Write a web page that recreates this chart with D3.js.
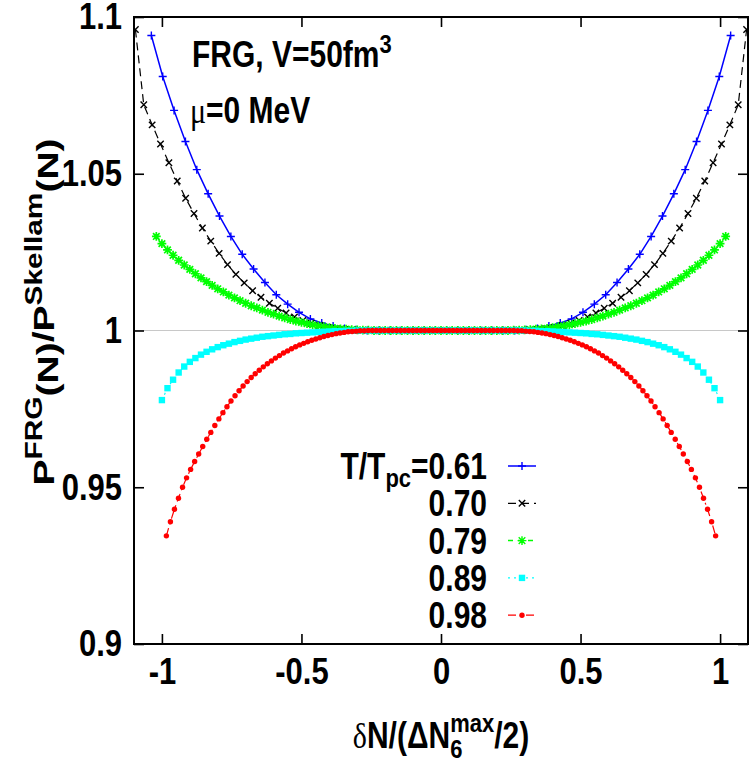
<!DOCTYPE html>
<html>
<head>
<meta charset="utf-8">
<script src="https://cdn.jsdelivr.net/npm/d3@7"></script>
<style>
  body { margin: 0; background: #fff; }
  svg { font-family: "Liberation Sans", Arial, sans-serif; font-weight: bold; }
</style>
</head>
<body>
<svg id="chart" width="750" height="761"></svg>
<script>
// T/Tpc of each curve
var temps = ["0.61", "0.70", "0.79", "0.89", "0.98"];
// each curve is sampled on an even grid over [-end, end] (in dN/(dNmax/2))
var gridEnd = [1.0378, 1.095, 1.02, 1.0, 0.984];

// P_FRG / P_Skellam, left to right
var ratio061 = [1.0941,1.0810,1.0702,1.0603,1.0513,1.0436,1.0365,1.0300,1.0243,1.0196,
  1.0153,1.0114,1.0084,1.0058,1.0037,1.0024,1.0014,1.0006,1.0002,1,1,1,1,1,1,1,
  1,1,1,1,1,1,1,1.0002,1.0006,1.0014,1.0024,1.0037,1.0058,1.0084,1.0114,1.0153,
  1.0196,1.0243,1.0300,1.0365,1.0436,1.0513,1.0603,1.0702,1.0810,1.0941];

var ratio070 = [1.0960,1.0720,1.0656,1.0595,1.0535,1.0477,1.0422,1.0373,1.0327,1.0285,
  1.0246,1.0210,1.0179,1.0152,1.0127,1.0106,1.0087,1.0071,1.0056,1.0043,1.0032,1.0023,
  1.0016,1.0010,1.0006,1.0003,1.0001,1,1,1,1,1,1,1,1,1,1,
  1,1,1,1,1,1,1,1,1,1,1.0001,1.0003,1.0006,1.0010,1.0016,1.0023,1.0032,1.0043,1.0056,
  1.0071,1.0087,1.0106,1.0127,1.0152,1.0179,1.0210,1.0246,1.0285,1.0327,1.0373,1.0422,
  1.0477,1.0535,1.0595,1.0656,1.0720,1.0960];

var ratio079 = [1.0300,1.0277,1.0257,1.0240,1.0224,1.0209,1.0195,1.0181,1.0168,1.0156,
  1.0144,1.0133,1.0123,1.0113,1.0104,1.0095,1.0087,1.0079,1.0072,1.0065,1.0058,1.0052,
  1.0046,1.0040,1.0035,1.0030,1.0026,1.0022,1.0018,1.0015,1.0012,1.0009,1.0007,1.0005,
  1.0004,1.0003,1.0002,1.0001,1.0001,
  1,1,1,1,1,1,1,1,1,1,1,1,1,1,1,1,1,1,1,1,1,1,1,1,1,
  1.0001,1.0001,1.0002,1.0003,1.0004,1.0005,1.0007,1.0009,1.0012,1.0015,1.0018,1.0022,
  1.0026,1.0030,1.0035,1.0040,1.0046,1.0052,1.0058,1.0065,1.0072,1.0079,1.0087,1.0095,
  1.0104,1.0113,1.0123,1.0133,1.0144,1.0156,1.0168,1.0181,1.0195,1.0209,1.0224,1.0240,
  1.0257,1.0277,1.0300];

var ratio089 = [0.9778,0.9816,0.9843,0.9866,0.9885,0.9900,0.9912,0.9923,0.9932,0.9940,
  0.9947,0.9953,0.9958,0.9963,0.9967,0.9971,0.9974,0.9977,0.9980,0.9982,0.9984,0.9986,
  0.9988,0.9989,0.9991,0.9992,0.9993,0.9994,0.9995,0.9996,0.9997,0.9998,0.9998,0.9999,0.9999,
  1,1,1,1,1,1,1,1,1,1,1,1,1,1,1,1,1,1,1,1,1,1,1,1,1,1,1,1,1,1,1,
  0.9999,0.9999,0.9998,0.9998,0.9997,0.9996,0.9995,0.9994,0.9993,0.9992,0.9991,0.9989,
  0.9988,0.9986,0.9984,0.9982,0.9980,0.9977,0.9974,0.9971,0.9967,0.9963,0.9958,0.9953,
  0.9947,0.9940,0.9932,0.9923,0.9912,0.9900,0.9885,0.9866,0.9843,0.9816,0.9778];

var ratio098 = [0.9345,0.9390,0.9430,0.9465,0.9500,0.9530,0.9557,0.9582,0.9606,0.9630,
  0.9653,0.9675,0.9697,0.9718,0.9738,0.9757,0.9775,0.9792,0.9808,0.9823,
  0.9837,0.9850,0.9862,0.9873,0.9884,0.9894,0.9903,0.9912,0.9920,0.9928,
  0.9935,0.9942,0.9948,0.9954,0.9959,0.9964,0.9969,0.9973,0.9977,0.9981,
  0.9984,0.9987,0.9990,0.9992,0.9994,0.9996,0.9997,0.9998,0.9999,0.9999,
  1,1,1,1,1,1,1,1,1,1,1,1,1,1,1,1,1,1,1,1,1,1,1,1,1,1,1,1,1,1,1,1,1,1,1,1,1,
  0.9999,0.9999,0.9998,0.9997,0.9996,0.9994,0.9992,0.9990,0.9987,0.9984,
  0.9981,0.9977,0.9973,0.9969,0.9964,0.9959,0.9954,0.9948,0.9942,0.9935,
  0.9928,0.9920,0.9912,0.9903,0.9894,0.9884,0.9873,0.9862,0.9850,0.9837,
  0.9823,0.9808,0.9792,0.9775,0.9757,0.9738,0.9718,0.9697,0.9675,0.9653,
  0.9630,0.9606,0.9582,0.9557,0.9530,0.9500,0.9465,0.9430,0.9390,0.9345];

var xTicks = [-1, -0.5, 0, 0.5, 1];
var yTicks = [0.9, 0.95, 1, 1.05, 1.1];

var allSeries = [ratio061, ratio070, ratio079, ratio089, ratio098];

var styles = [
  {color: "#0000ff", dash: null,      mark: "plus",   size: 4,   fill: false, lw: 1.5},
  {color: "#000000", dash: "8,5",     mark: "times",  size: 3.2, fill: false, lw: 1.2},
  {color: "#00ff00", dash: "5,5",     mark: "star",   size: 4.4, fill: false, lw: 1.5},
  {color: "#00ffff", dash: "2,4",     mark: "square", size: 3.2, fill: true,  lw: 1.2},
  {color: "#ff0000", dash: "8,4,2,4", mark: "circle", size: 2.7, fill: true,  lw: 1.2}
];

var m = {left: 134, right: 748, top: 17, bottom: 644};
var SY = 1.2; // the original figure is stretched vertically, so is its text

var x = d3.scaleLinear().domain([-1.1, 1.1]).range([m.left, m.right]);
var y = d3.scaleLinear().domain([0.9, 1.1]).range([m.bottom, m.top]);

var svg = d3.select("#chart");

svg.append("defs").append("clipPath").attr("id", "clip")
  .append("rect")
  .attr("x", m.left).attr("y", m.top)
  .attr("width", m.right - m.left).attr("height", m.bottom - m.top);

// thin grey line at ratio 1
svg.append("line")
  .attr("x1", m.left).attr("x2", m.right)
  .attr("y1", y(1)).attr("y2", y(1))
  .attr("stroke", "#c8c8c8").attr("stroke-width", 1);

function markerPath(type, s) {
  if (type == "plus") return "M" + (-s) + ",0H" + s + "M0," + (-s) + "V" + s;
  if (type == "times") return "M" + (-s) + "," + (-s) + "L" + s + "," + s + "M" + (-s) + "," + s + "L" + s + "," + (-s);
  if (type == "star") return markerPath("plus", s) + markerPath("times", s * 0.75);
  if (type == "square") return "M" + (-s) + "," + (-s) + "h" + (2 * s) + "v" + (2 * s) + "h" + (-2 * s) + "Z";
  return d3.symbol(d3.symbolCircle, Math.PI * s * s)();
}

function drawMarks(g, pts, st) {
  g.selectAll("path.mk").data(pts).enter().append("path")
    .attr("class", "mk")
    .attr("transform", function(d) { return "translate(" + x(d[0]) + "," + y(d[1]) + ")"; })
    .attr("d", markerPath(st.mark, st.size))
    .attr("fill", st.fill ? st.color : "none")
    .attr("stroke", st.fill ? "none" : st.color)
    .attr("stroke-width", st.fill ? 0 : (st.mark == "star" ? 1.7 : 1.4));
}

var plot = svg.append("g").attr("clip-path", "url(#clip)");
var line = d3.line().x(function(d) { return x(d[0]); }).y(function(d) { return y(d[1]); });

allSeries.forEach(function(vals, i) {
  var st = styles[i];
  var n = vals.length, e = gridEnd[i];
  var pts = vals.map(function(v, k) { return [-e + 2 * e * k / (n - 1), v]; });
  var g = plot.append("g");
  g.append("path").datum(pts)
    .attr("d", line)
    .attr("fill", "none")
    .attr("stroke", st.color)
    .attr("stroke-width", st.lw)
    .attr("stroke-dasharray", st.dash);
  drawMarks(g, pts, st);
});

// axes, ticks pointing inwards on all four sides
function styleAxis(g) {
  g.select(".domain").remove();
  g.attr("font-family", null).attr("font-size", 31);
  g.selectAll(".tick line").attr("stroke", "#000").attr("stroke-width", 1.6);
  g.selectAll(".tick text").attr("fill", "#000").attr("transform", "scale(1," + SY + ")");
}
var fmt = function(d) { return String(d); };

svg.append("g").attr("transform", "translate(0," + m.bottom + ")")
  .call(d3.axisBottom(x).tickValues(xTicks).tickSize(-10).tickSizeOuter(0).tickPadding(11).tickFormat(fmt))
  .call(styleAxis);
svg.append("g").attr("transform", "translate(0," + m.top + ")")
  .call(d3.axisTop(x).tickValues(xTicks).tickSize(-10).tickSizeOuter(0).tickFormat(""))
  .call(styleAxis);
svg.append("g").attr("transform", "translate(" + m.left + ",0)")
  .call(d3.axisLeft(y).tickValues(yTicks).tickSize(-10).tickSizeOuter(0).tickPadding(12).tickFormat(fmt))
  .call(styleAxis);
svg.append("g").attr("transform", "translate(" + m.right + ",0)")
  .call(d3.axisRight(y).tickValues(yTicks).tickSize(-10).tickSizeOuter(0).tickFormat(""))
  .call(styleAxis);

svg.append("rect")
  .attr("x", m.left).attr("y", m.top)
  .attr("width", m.right - m.left).attr("height", m.bottom - m.top)
  .attr("fill", "none").attr("stroke", "#000").attr("stroke-width", 2);

// annotations
var t1 = svg.append("text").attr("font-size", 30)
  .attr("transform", "translate(192,67) scale(1," + SY + ")");
t1.append("tspan").text("FRG, V=50fm");
t1.append("tspan").attr("font-size", 22).attr("dy", -12).text("3");

var t2 = svg.append("text").attr("font-size", 30)
  .attr("transform", "translate(190,123) scale(1," + SY + ")");
t2.append("tspan").attr("font-family", "'Liberation Serif', serif").attr("font-weight", "normal").text("\u03bc");
t2.append("tspan").text("=0 MeV");

// legend
var legTop = 466, legStep = 37.3;
temps.forEach(function(t, i) {
  var ly = legTop + i * legStep;
  var st = styles[i];
  var txt = svg.append("text").attr("font-size", 30).attr("text-anchor", "end")
    .attr("transform", "translate(487," + ly + ") scale(1," + SY + ")")
    .attr("y", 10.8);
  if (i == 0) {
    txt.append("tspan").text("T/T");
    txt.append("tspan").attr("font-size", 22).attr("dy", 7).text("pc");
    txt.append("tspan").attr("dy", -7).text("=" + t);
  } else {
    txt.text(t);
  }
  var lg = svg.append("g");
  lg.append("line").attr("x1", 508).attr("x2", 536).attr("y1", ly).attr("y2", ly)
    .attr("stroke", st.color).attr("stroke-width", st.lw).attr("stroke-dasharray", st.dash);
  lg.append("path").attr("transform", "translate(522," + ly + ")")
    .attr("d", markerPath(st.mark, st.size))
    .attr("fill", st.fill ? st.color : "none")
    .attr("stroke", st.fill ? "none" : st.color)
    .attr("stroke-width", st.fill ? 0 : 1.4);
});

// y axis label
var yl = svg.append("text").attr("font-size", 30).attr("text-anchor", "middle")
  .attr("transform", "translate(54,312) rotate(-90) scale(1.3,1)");
yl.append("tspan").text("P");
yl.append("tspan").attr("font-size", 23).attr("dy", -12).text("FRG");
yl.append("tspan").attr("dy", 16).text("(N)");
yl.append("tspan").attr("dy", -4).text("/P");
yl.append("tspan").attr("font-size", 23).attr("dy", -12).text("Skellam");
yl.append("tspan").attr("dy", 16).text("(N)");

// x axis label, with stacked super/subscript on N
var xl = svg.append("g").attr("transform", "translate(" + x(0) + ",748) scale(1," + SY + ")");
var inner = xl.append("g");
var cx = 0;
function piece(str, size, dy, serif) {
  var t = inner.append("text").attr("x", cx).attr("y", dy).attr("font-size", size).text(str);
  if (serif) t.attr("font-family", "'Liberation Serif', serif").attr("font-weight", "normal");
  return t.node().getComputedTextLength();
}
cx += piece("\u03b4", 30, 0, true);
cx += piece("N/(\u0394N", 30, 0, false);
var wSup = piece("max", 22, -13, false);
var wSub = piece("6", 22, 8, false);
cx += Math.max(wSup, wSub);
cx += piece("/2)", 30, 0, false);
inner.attr("transform", "translate(" + (-cx / 2) + ",0)");
</script>
</body>
</html>
